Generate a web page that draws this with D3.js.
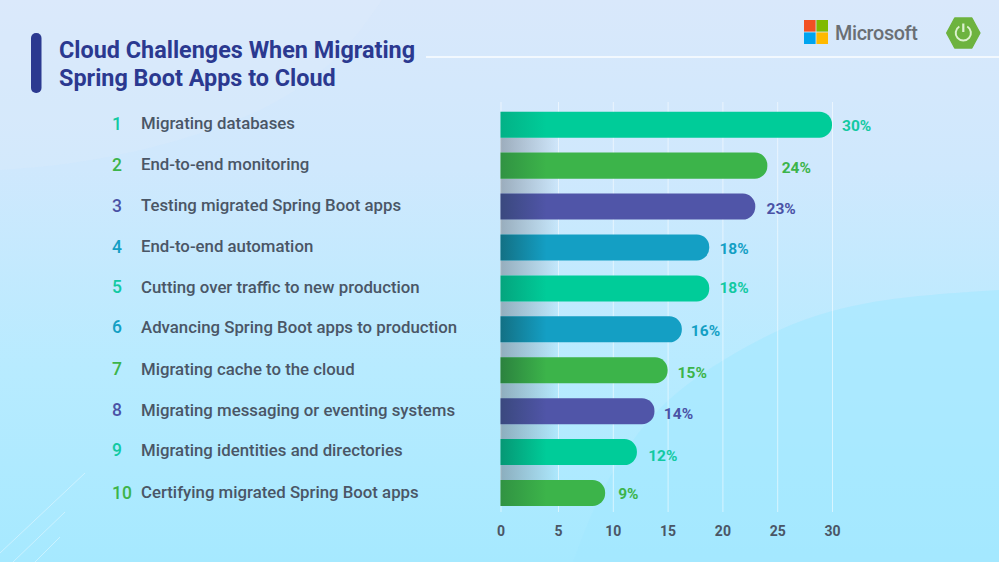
<!DOCTYPE html>
<html>
<head>
<meta charset="utf-8">
<title>Cloud Challenges</title>
<script src="https://cdn.jsdelivr.net/npm/d3@7"></script>
<style>
  html, body { margin: 0; padding: 0; overflow: hidden; }
  svg { display: block; font-family: Roboto, sans-serif; }
</style>
</head>
<body>
<svg id="chart"></svg>
<script>
// chart data
const ranks = ["1", "2", "3", "4", "5", "6", "7", "8", "9", "10"];
const challenges = [
  "Migrating databases",
  "End-to-end monitoring",
  "Testing migrated Spring Boot apps",
  "End-to-end automation",
  "Cutting over traffic to new production",
  "Advancing Spring Boot apps to production",
  "Migrating cache to the cloud",
  "Migrating messaging or eventing systems",
  "Migrating identities and directories",
  "Certifying migrated Spring Boot apps"
];
// bar lengths, the printed labels are rounded differently
const barValues = [30, 24.1, 23, 18.8, 18.8, 16.3, 15, 13.8, 12.2, 9.3];
const valueLabels = ["30%", "24%", "23%", "18%", "18%", "16%", "15%", "14%", "12%", "9%"];
const axisTicks = [0, 5, 10, 15, 20, 25, 30];
const titleLines = ["Cloud Challenges When Migrating", "Spring Boot Apps to Cloud"];

const teal = "#00cc99", green = "#3cb44a", purple = "#5055a8", blue = "#149fc4";
const barColors = [teal, green, purple, blue, teal, blue, green, purple, teal, green];
const labelColors = ["#12c9a2", "#3cb44a", "#4a52a6", "#149fc4", "#12c9a2", "#149fc4", "#3cb44a", "#4a52a6", "#12c9a2", "#3cb44a"];

// the rows of the original are hand placed, these are its small offsets
const textNudge = [-1.2, -1.1, -1, -1, -1.3, -2.2, -1.4, -1.3, -2.2, -0.6];
const labelDx = [10, 14.3, 11.3, 10.2, 10.2, 9, 10, 9.4, 11.3, 13];
const labelDy = [1.2, 2.2, 1.8, 1.3, -0.7, 0.7, 1.8, 2.2, 3, 0.2];
const shadeStrength = [0.4, 0.6, 0.8, 1, 0.6, 1, 0.9, 0.8, 0.8, 0.6];

const width = 999;
const height = 562;

const svg = d3.select("#chart").attr("width", width).attr("height", height);
const defs = svg.append("defs");

// scales, the first tick interval of the original axis is a bit wider
const x = d3.scaleLinear().domain([0, 5, 30]).range([500.5, 558, 832]);
const y = d3.scaleBand().domain(ranks).range([111.7, 506]).paddingInner(0.364);

// background
const bgGrad = defs.append("linearGradient").attr("id", "bg")
  .attr("x1", 0).attr("y1", 0).attr("x2", 0).attr("y2", 1);
bgGrad.append("stop").attr("offset", "0%").attr("stop-color", "#d9e8fb");
bgGrad.append("stop").attr("offset", "30%").attr("stop-color", "#cfe8fd");
bgGrad.append("stop").attr("offset", "65%").attr("stop-color", "#b8ebff");
bgGrad.append("stop").attr("offset", "100%").attr("stop-color", "#a6e9ff");
svg.append("rect").attr("width", width).attr("height", height).attr("fill", "url(#bg)");

const curve = d3.line().curve(d3.curveBasis);
svg.append("path")
  .attr("d", curve([[573, 562], [600, 490], [650, 410], [723, 358], [800, 318], [880, 298], [999, 290]]) + "L999,562Z")
  .attr("fill", "#a2e8ff").attr("opacity", 0.55);
svg.append("path")
  .attr("d", curve([[382, 0], [340, 60], [270, 110], [170, 145], [70, 165], [0, 170]]) + "L0,0Z")
  .attr("fill", "#e2ecfb").attr("opacity", 0.22);

svg.append("g").selectAll("line")
  .data([[0, 553, 85, 473], [13, 562, 65, 512], [35, 562, 60, 537]])
  .enter().append("line")
  .attr("x1", d => d[0]).attr("y1", d => d[1])
  .attr("x2", d => d[2]).attr("y2", d => d[3])
  .attr("stroke", "#fff").attr("stroke-opacity", 0.4);

// title
svg.append("rect")
  .attr("x", 31).attr("y", 33).attr("width", 10.5).attr("height", 60).attr("rx", 5)
  .attr("fill", "#2b3990");
svg.append("g").selectAll("text")
  .data(titleLines)
  .enter().append("text")
  .attr("x", 59).attr("y", (d, i) => 58 + i * 28)
  .attr("font-size", 23.4).attr("font-weight", 700).attr("fill", "#2b3990")
  .text(d => d);
svg.append("line")
  .attr("x1", 426).attr("x2", 999).attr("y1", 57).attr("y2", 57)
  .attr("stroke", "#fff").attr("stroke-width", 1.6).attr("stroke-opacity", 0.9);

// logos
const msSquares = [["#f25022", 0, 0], ["#7fba00", 1, 0], ["#00a4ef", 0, 1], ["#ffb900", 1, 1]];
svg.append("g").attr("transform", "translate(804,20)").selectAll("rect")
  .data(msSquares)
  .enter().append("rect")
  .attr("x", d => d[1] * 12.4).attr("y", d => d[2] * 12.4)
  .attr("width", 11.6).attr("height", 11.6)
  .attr("fill", d => d[0]);
svg.append("text")
  .attr("x", 835).attr("y", 39.5)
  .attr("font-size", 19.8).attr("font-weight", 500)
  .attr("letter-spacing", -0.35).attr("fill", "#6a6f74")
  .text("Microsoft");

const spring = svg.append("g").attr("transform", "translate(963.3,33)");
spring.append("path")
  .attr("d", "M-16.6,0 L-8.5,-15 L8.5,-15 L16.6,0 L8.5,15 L-8.5,15 Z")
  .attr("fill", "#6db33f").attr("stroke", "#6db33f").attr("stroke-width", 1.5).attr("stroke-linejoin", "round");
spring.append("path")
  .attr("d", d3.arc().innerRadius(6.6).outerRadius(8.6).startAngle(0.55).endAngle(2 * Math.PI - 0.55)())
  .attr("fill", "#dcf1cf");
spring.append("line")
  .attr("y1", -9.5).attr("y2", -1).attr("stroke", "#dcf1cf").attr("stroke-width", 2.2);

// axis, its tick lines are the white grid
const axisY = 512;
const axis = svg.append("g")
  .attr("transform", `translate(0,${axisY})`)
  .call(d3.axisBottom(x).tickValues(axisTicks).tickFormat(d3.format("d")).tickSize(-410).tickPadding(14));
axis.select(".domain").remove();
axis.selectAll(".tick line").attr("stroke", "#fff").attr("stroke-opacity", 0.55).attr("stroke-width", 1);
axis.selectAll(".tick text")
  .attr("font-family", "Roboto, sans-serif").attr("font-size", 14).attr("font-weight", 700)
  .attr("fill", "#4a5666");

// gradients for the shading at the left of the bars
const shadowGrad = defs.append("linearGradient").attr("id", "gapShade");
shadowGrad.append("stop").attr("offset", "0%").attr("stop-color", "#68717c").attr("stop-opacity", 0.5);
shadowGrad.append("stop").attr("offset", "100%").attr("stop-color", "#68717c").attr("stop-opacity", 0);
const barGrad = defs.append("linearGradient").attr("id", "barShade");
barGrad.append("stop").attr("offset", "0%").attr("stop-color", "#10302c").attr("stop-opacity", 0.42);
barGrad.append("stop").attr("offset", "100%").attr("stop-color", "#10302c").attr("stop-opacity", 0);

const rows = ranks.map((rank, i) => ({
  rank,
  name: challenges[i],
  value: barValues[i],
  label: valueLabels[i],
  color: barColors[i],
  labelColor: labelColors[i],
  nudge: textNudge[i],
  dx: labelDx[i],
  dy: labelDy[i],
  shade: shadeStrength[i]
}));

// grey shadow in the gap under every bar but the last
svg.append("g").selectAll("rect")
  .data(rows.slice(0, -1))
  .enter().append("rect")
  .attr("x", x(0))
  .attr("y", d => y(d.rank) + y.bandwidth())
  .attr("width", 60)
  .attr("height", y.step() - y.bandwidth())
  .attr("fill", "url(#gapShade)");

// bars have a square left end and a round right end
function barPath(d) {
  const x0 = x(0), x1 = x(d.value), y0 = y(d.rank), h = y.bandwidth(), r = 12.5;
  const p = d3.path();
  p.moveTo(x0, y0);
  p.lineTo(x1 - r, y0);
  p.arcTo(x1, y0, x1, y0 + r, r);
  p.lineTo(x1, y0 + h - r);
  p.arcTo(x1, y0 + h, x1 - r, y0 + h, r);
  p.lineTo(x0, y0 + h);
  p.closePath();
  return p.toString();
}

const bars = svg.append("g").selectAll("g")
  .data(rows)
  .enter().append("g");
bars.append("path")
  .attr("d", barPath)
  .attr("fill", d => d.color);
bars.append("rect")
  .attr("x", x(0))
  .attr("y", d => y(d.rank))
  .attr("width", 46)
  .attr("height", y.bandwidth())
  .attr("fill", "url(#barShade)")
  .attr("opacity", d => d.shade);

bars.append("text")
  .attr("x", d => x(d.value) + d.dx)
  .attr("y", d => y(d.rank) + y.bandwidth() / 2 + 5.5 + d.dy)
  .attr("font-size", 15.5).attr("font-weight", 700)
  .attr("fill", d => d.labelColor)
  .text(d => d.label);

// list on the left
const list = svg.append("g").selectAll("g")
  .data(rows)
  .enter().append("g")
  .attr("transform", d => `translate(0,${y(d.rank) + y.bandwidth() / 2 + d.nudge})`);
list.append("text")
  .attr("x", 112).attr("dy", "0.35em")
  .attr("font-size", 17.5).attr("font-weight", 500)
  .attr("fill", d => d.labelColor)
  .text(d => d.rank);
list.append("text")
  .attr("x", 141).attr("dy", "0.35em")
  .attr("font-size", 16.8).attr("font-weight", 500)
  .attr("fill", "#4a5666")
  .text(d => d.name);
</script>
</body>
</html>
